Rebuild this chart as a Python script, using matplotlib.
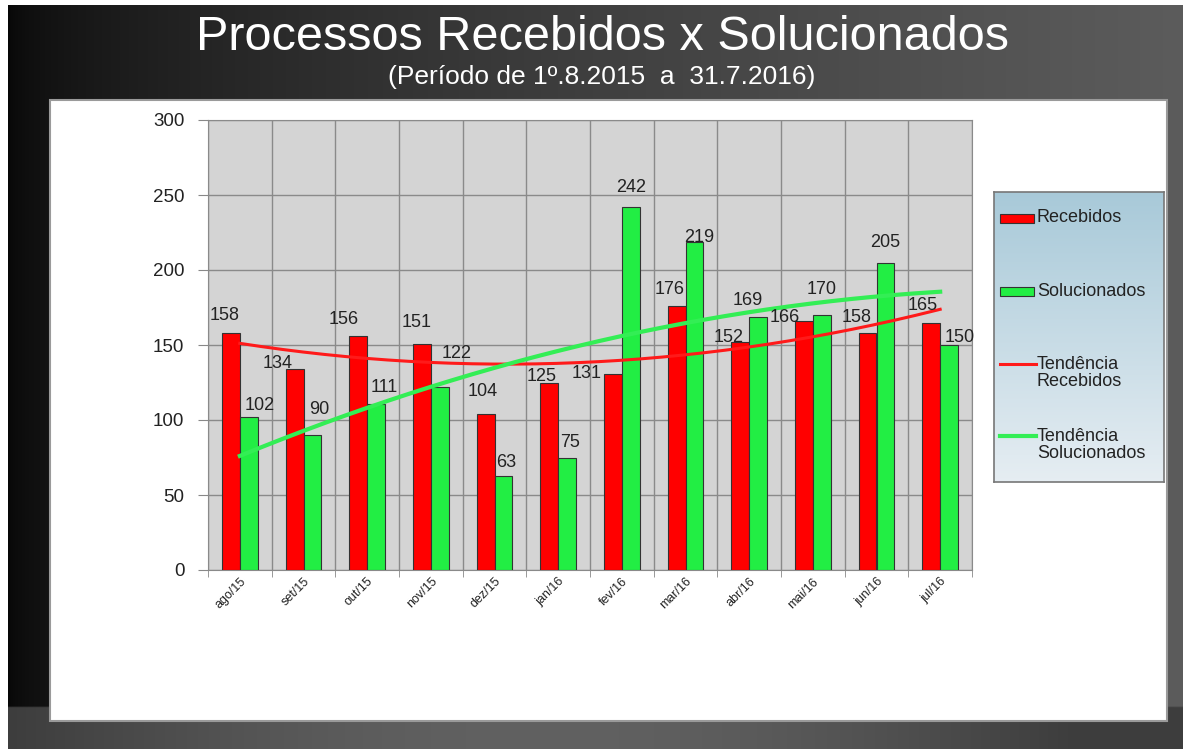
import matplotlib
matplotlib.use("Agg")
import matplotlib.pyplot as plt
from matplotlib.patches import Rectangle
from matplotlib.lines import Line2D
import numpy as np

plt.rcParams['font.family'] = ['Liberation Sans', 'DejaVu Sans']

# dados do gráfico
meses = ["ago/15", "set/15", "out/15", "nov/15", "dez/15", "jan/16",
         "fev/16", "mar/16", "abr/16", "mai/16", "jun/16", "jul/16"]
recebidos = [158, 134, 156, 151, 104, 125, 131, 176, 152, 166, 158, 165]
solucionados = [102, 90, 111, 122, 63, 75, 242, 219, 169, 170, 205, 150]

# posição dos rótulos (pixels, relativo ao topo da barra)
off_rec = [(-6, 17), (-17, 5), (-15, 16), (-5, 21), (-3, 22), (-8, 6),
           (-26, 0), (-7, 17), (-12, 5), (-19, 3), (-11, 15), (-9, 17)]
off_sol = [(11, 12), (7, 26), (8, 16), (17, 34), (3, 13), (3, 15),
           (0, 20), (5, 4), (-10, 16), (0, 26), (0, 20), (11, 8)]

W, H = 1183, 749
fig = plt.figure(figsize=(W / 100, H / 100), dpi=100, facecolor="white")

# fundo escuro do slide
bg = fig.add_axes([8 / W, 0, 1 - 8 / W, 1 - 5 / H])
bg.set_axis_off()
xx = np.linspace(0, 1, 400)
yy = np.linspace(0, 1, 300)
gx, gy = np.meshgrid(xx, yy)
val = 0.03 + 0.33 * gx ** 0.6
band = 0.24 + 0.14 * np.sin(np.pi * np.clip(gx * 1.1, 0, 1))
img = np.where(gy > 0.945, band, val)
bg.imshow(np.dstack([img] * 3), aspect="auto", extent=[0, 1, 0, 1], origin="upper")
bg.set_xlim(0, 1)
bg.set_ylim(0, 1)

fig.text(602 / W, 1 - 38 / H, "Processos Recebidos x Solucionados", color="white",
         fontsize=35, ha="center", va="center")
fig.text(602 / W, 1 - 77 / H, "(Período de 1º.8.2015  a  31.7.2016)", color="white",
         fontsize=19, ha="center", va="center")

# painel branco
fig.patches.append(Rectangle((50 / W, 1 - 721 / H), 1117 / W, 621 / H,
                             transform=fig.transFigure, facecolor="white",
                             edgecolor="#9a9a9a", lw=1.5, zorder=1))

ax = fig.add_axes([208 / W, 1 - 570 / H, 764 / W, 450 / H], zorder=2)
ax.set_facecolor("#d4d4d4")
x = np.arange(len(meses))
bw = 0.28
ax.bar(x - bw / 2, recebidos, bw, color="#ff0000", edgecolor="#333333", lw=0.8, zorder=3)
ax.bar(x + bw / 2, solucionados, bw, color="#22ee44", edgecolor="#333333", lw=0.8, zorder=3)

# linhas de tendência (polinomial de ordem 2)
xs = np.linspace(0, len(meses) - 1, 200)
pr = np.polyfit(x, recebidos, 2)
ps = np.polyfit(x, solucionados, 2)
ax.plot(xs, np.polyval(pr, xs), color="#ff1a1a", lw=2.2, zorder=4)
ax.plot(xs, np.polyval(ps, xs), color="#33ee55", lw=3.0, zorder=4)

for i in range(len(meses)):
    ax.annotate(str(recebidos[i]), (x[i] - bw / 2, recebidos[i]), xytext=off_rec[i],
                textcoords="offset pixels", ha="center", va="center", fontsize=13,
                color="#222222", zorder=5)
    ax.annotate(str(solucionados[i]), (x[i] + bw / 2, solucionados[i]), xytext=off_sol[i],
                textcoords="offset pixels", ha="center", va="center", fontsize=13,
                color="#222222", zorder=5)

ax.set_xlim(-0.5, len(meses) - 0.5)
ax.set_ylim(0, 300)
ax.set_yticks(range(0, 301, 50))
ax.set_xticks(x)
ax.set_xticklabels(meses, rotation=45, ha="right", rotation_mode="anchor", fontsize=9, color="#222222")
ax.set_xticks(np.arange(-0.5, len(meses), 1), minor=True)
ax.tick_params(axis="x", which="major", length=0, pad=4)
ax.tick_params(axis="x", which="minor", length=5, color="#888888")
ax.tick_params(axis="y", length=7, color="#888888", labelsize=13.5, labelcolor="#222222", pad=10)
ax.grid(axis="y", color="#8a8a8a", lw=1, zorder=1)
ax.grid(axis="x", which="minor", color="#8a8a8a", lw=1, zorder=1)
for s in ax.spines.values():
    s.set_color("#8a8a8a")

# legenda
lg = fig.add_axes([994 / W, 1 - 482 / H, 170 / W, 290 / H], zorder=3)
grad = np.linspace(0, 1, 100)[:, None]
top = np.array([0.66, 0.79, 0.85])
bot = np.array([0.90, 0.93, 0.95])
lg.imshow(top + (bot - top) * grad[:, :, None], aspect="auto", extent=[0, 1, 0, 1], origin="upper")
lg.set_xlim(0, 1)
lg.set_ylim(0, 1)
lg.set_xticks([])
lg.set_yticks([])
for s in lg.spines.values():
    s.set_color("#777777")
    s.set_linewidth(1.2)

def py(p):
    return (482 - p) / 290

lg.add_patch(Rectangle((6 / 170, py(223)), 34 / 170, 9 / 290, facecolor="#ff0000", edgecolor="#333333", lw=0.8))
lg.add_patch(Rectangle((6 / 170, py(296)), 34 / 170, 9 / 290, facecolor="#22ee44", edgecolor="#333333", lw=0.8))
lg.add_line(Line2D([6 / 170, 42 / 170], [py(364), py(364)], color="#ff1a1a", lw=2.2))
lg.add_line(Line2D([6 / 170, 42 / 170], [py(436), py(436)], color="#33ee55", lw=3.0))
lt = dict(fontsize=13, color="#222222", va="center", ha="left")
lg.text(43 / 170, py(218), "Recebidos", **lt)
lg.text(43 / 170, py(291), "Solucionados", **lt)
lg.text(43 / 170, py(373), "Tendência\nRecebidos", linespacing=1.0, **lt)
lg.text(43 / 170, py(445), "Tendência\nSolucionados", linespacing=1.0, **lt)

fig.savefig("out.png", dpi=100, facecolor="white")
